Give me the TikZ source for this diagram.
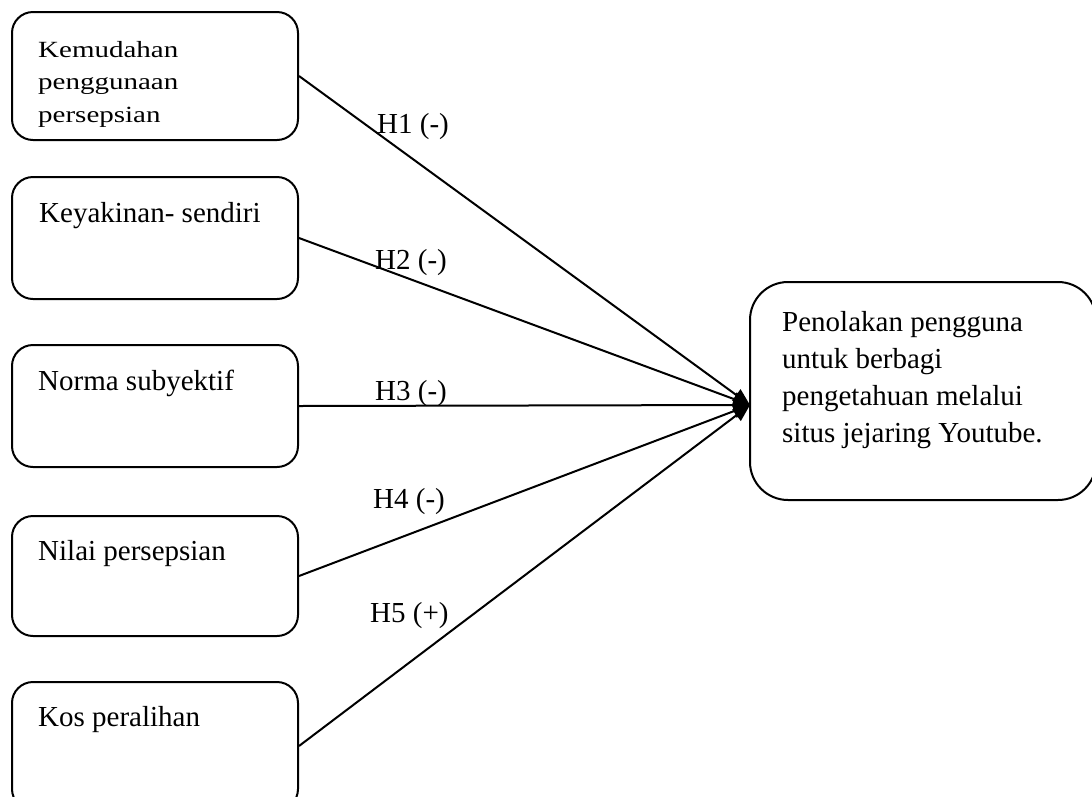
\documentclass[tikz,border=0pt]{standalone}
\usepackage{fontspec}
\setmainfont{Liberation Serif}
\usetikzlibrary{arrows.meta}
\begin{document}
\begin{tikzpicture}[x=1pt,y=-1pt,
  box/.style={draw, line width=2pt, rounded corners=21pt, inner sep=0pt},
  txt/.style={anchor=base west, inner sep=0pt, align=left,
    font=\fontsize{29}{32.5}\selectfont},
  link/.style={line width=2pt, -{Triangle[length=17pt,width=14pt]}}]
\clip (0,0) rectangle (1092,796);

% factor boxes
\node[box, minimum width=286pt, minimum height=128pt] (b1) at (155,76) {};
\node[box, minimum width=286pt, minimum height=122pt] (b2) at (155,238) {};
\node[box, minimum width=286pt, minimum height=122pt] (b3) at (155,406) {};
\node[box, minimum width=286pt, minimum height=120pt] (b4) at (155,576) {};
\node[box, minimum width=286pt, minimum height=128pt] (b5) at (155,746) {};

% outcome box
\node[box, rounded corners=38pt, minimum width=346pt, minimum height=218pt] (t) at (923,391) {};
\coordinate (tip) at (750,405);

% box texts (multi-line nodes sit on the baseline of their last line)
\node[txt] (k1) at (38,122) {\scalebox{1}[0.8]{Kemudahan}\\\scalebox{1}[0.8]{penggunaan}\\\scalebox{1}[0.8]{persepsian}};
\node[txt] (k2) at (39,222) {Keyakinan- sendiri};
\node[txt] (k3) at (38,390) {Norma subyektif};
\node[txt] (k4) at (38,560) {Nilai persepsian};
\node[txt] (k5) at (38,726) {Kos peralihan};
\node[txt, font=\fontsize{29}{36.7}\selectfont] (kt) at (782,442)
  {Penolakan pengguna\\untuk berbagi\\pengetahuan melalui\\situs jejaring Youtube.};

% hypothesis paths
\draw[link] (b1.east) -- (tip);
\draw[link] (b2.east) -- (tip);
\draw[link] (b3.east) -- (tip);
\draw[link] (b4.east) -- (tip);
\draw[link] (b5.east) -- (tip);

% hypothesis labels
\node[txt] (h1) at (377,133) {H1 (-)};
\node[txt] (h2) at (375,269) {H2 (-)};
\node[txt] (h3) at (375,400) {H3 (-)};
\node[txt] (h4) at (373,508) {H4 (-)};
\node[txt] (h5) at (370,622) {H5 (+)};
\end{tikzpicture}
\end{document}
